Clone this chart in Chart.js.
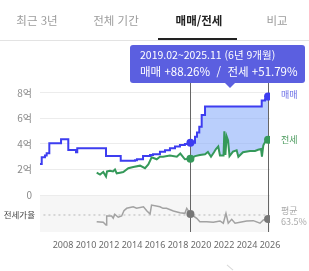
<!DOCTYPE html>
<html lang="ko">
<head>
<meta charset="utf-8">
<script src="https://cdn.jsdelivr.net/npm/chart.js@4"></script>
<style>
  html, body { margin: 0; padding: 0; background: #fff; }
  body {
    width: 309px; height: 271px; position: relative; overflow: hidden;
    font-family: "Noto Sans CJK KR", "Noto Sans", sans-serif;
  }
  #chart { position: absolute; left: 0; top: 0; }
  .tab {
    position: absolute; top: 11px; font-size: 11.5px; line-height: 18px;
    color: #9c9c9c; transform: translateX(-50%); white-space: nowrap;
  }
  .tab.on { color: #222; font-weight: 700; }
  #tabline { position: absolute; left: 0; right: 0; top: 40px; height: 1px; background: #e3e3e3; }
  #tabmark { position: absolute; left: 158px; width: 79px; top: 38px; height: 2px; background: #222; }
  #tip {
    position: absolute; left: 130px; top: 45px; width: 175px; height: 38px;
    background: #5b5fe0; border-radius: 3px; color: #fff;
  }
  #tip .l1 { position: absolute; left: 10px; top: 2px; font-size: 10.5px; line-height: 16px; white-space: nowrap; }
  #tip .l2 { position: absolute; left: 10px; top: 18px; font-size: 11.5px; line-height: 17px; white-space: nowrap; }
  #caret {
    position: absolute; left: 225px; top: 83px; width: 0; height: 0;
    border-left: 5px solid transparent; border-right: 5px solid transparent;
    border-top: 5px solid #5b5fe0;
  }
  .side { position: absolute; left: 281px; font-size: 9px; line-height: 12px; white-space: nowrap; }
  #chev { position: absolute; left: 226px; top: 267px; width: 8px; height: 1px; background: #d8d8d8; transform: rotate(40deg); }
</style>
</head>
<body>
<canvas id="chart" width="309" height="271"></canvas>

<div class="tab" style="left:37px">최근 3년</div>
<div class="tab" style="left:116px">전체 기간</div>
<div class="tab on" style="left:199px">매매/전세</div>
<div class="tab" style="left:277px">비교</div>
<div id="tabline"></div>
<div id="tabmark"></div>

<div id="tip">
  <div class="l1">2019.02~2025.11 (6년 9개월)</div>
  <div class="l2">매매 +88.26% &nbsp;/&nbsp; 전세 +51.79%</div>
</div>
<div id="caret"></div>

<div class="side" style="top:89px;color:#6a6ee6">매매</div>
<div class="side" style="top:134px;color:#4a9a5c">전세</div>
<div class="side" style="top:205px;color:#aaa">평균</div>
<div class="side" style="top:216px;color:#aaa">63.5%</div>
<div id="chev"></div>

<script>
// ── 데이터 ──────────────────────────────────────────────────────────────────

const YEAR_TICKS = [2008, 2010, 2012, 2014, 2016, 2018, 2020, 2022, 2024, 2026];
const PRICE_TICKS = [0, 2, 4, 6, 8];

const RANGE_START = 2019.08;  // 2019.02
const RANGE_END = 2025.83;    // 2025.11
const AVG_RATIO = 63.5;

// 매매 (억)
const SALE_X = [2006.0, 2006.15, 2006.43, 2006.58, 2006.81, 2007.83, 2008.46, 2009.13, 2009.24,
    2011.74, 2013.02, 2014.26, 2014.43, 2014.96, 2015.57, 2015.83, 2016.43, 2016.87, 2017.3,
    2017.74, 2018.17, 2018.6, 2019.08, 2019.48, 2019.65, 2019.85, 2020.06, 2020.35, 2025.28,
    2025.57, 2025.83];
const SALE_Y = [2.43, 2.96, 3.1, 3.27, 4.05, 4.37, 3.53, 3.35, 3.66,
    3.06, 2.69, 2.72, 2.8, 3.06, 3.14, 3.2, 3.4, 3.5, 3.66,
    3.8, 3.92, 4.0, 4.1, 4.57, 4.9, 5.36, 6.27, 6.93, 7.4,
    7.5, 7.72];

// 전세 (억)
const JEONSE_X = [2010.93, 2011.22, 2011.5, 2011.74, 2011.83, 2012.09, 2012.35, 2012.52, 2012.67,
    2012.96, 2013.24, 2013.68, 2014.11, 2014.7, 2015.13, 2015.42, 2015.71, 2016.15, 2016.43,
    2016.7, 2017.3, 2017.9, 2018.2, 2018.6, 2019.08, 2019.48, 2019.91, 2020.35, 2020.6,
    2020.87, 2021.13, 2021.3, 2021.5, 2021.65, 2021.96, 2022.03, 2022.12, 2022.23, 2022.35,
    2022.48, 2022.78, 2023.1, 2023.25, 2023.65, 2024.26, 2024.7, 2024.96, 2025.22, 2025.3,
    2025.42, 2025.57, 2025.83];
const JEONSE_Y = [1.75, 1.6, 1.8, 1.44, 1.85, 1.9, 1.85, 2.0, 1.7,
    1.75, 1.8, 2.1, 2.2, 2.3, 2.1, 2.4, 2.96, 2.8, 3.0,
    3.0, 3.1, 3.0, 3.25, 2.8, 2.85, 3.05, 3.14, 3.2, 3.37,
    3.0, 3.35, 3.6, 3.8, 3.1, 3.1, 5.0, 3.15, 4.6, 4.3,
    3.05, 3.4, 3.5, 3.0, 3.35, 3.45, 3.45, 3.55, 3.6, 3.0,
    3.9, 4.15, 4.33];

// 전세가율 (%)
const RATIO_X = [2010.93, 2011.5, 2011.74, 2011.8, 2012.23, 2012.37, 2012.5, 2012.8, 2013.1,
    2013.3, 2013.54, 2014.1, 2014.4, 2015.0, 2015.28, 2015.57, 2015.7, 2016.43, 2016.7,
    2017.0, 2017.6, 2018.17, 2018.6, 2018.76, 2019.08, 2019.63, 2019.9, 2020.5, 2021.07,
    2021.65, 2021.94, 2022.17, 2022.37, 2022.67, 2022.96, 2023.4, 2023.97, 2024.55, 2025.13,
    2025.42, 2025.7, 2025.83];
const RATIO_Y = [52.3, 51.3, 46.8, 61.8, 61.8, 58, 64.7, 59.7, 61.8,
    70.7, 74.7, 77.3, 74.7, 77.3, 70.7, 65.2, 80.2, 77.3, 74.7,
    74.7, 70.2, 67.3, 66.3, 74.7, 65.2, 58, 52.3, 52.3, 51.3,
    53.5, 49.7, 66.3, 49.7, 56.3, 49.7, 51.3, 53.5, 54, 49.7,
    55.2, 56.3, 56.8];

// ── 헬퍼 ────────────────────────────────────────────────────────────────────

const pts = (xs, ys) => xs.map((x, i) => ({ x, y: ys[i] }));
const inRange = (p) => p.x >= RANGE_START && p.x <= RANGE_END;
const ends = (xs, ys) => [RANGE_START, RANGE_END].map(x => ({ x, y: ys[xs.indexOf(x)] }));

const BLUE = '#3d3df0';
const GREEN = '#35995a';
const GRAY = '#a2a2a2';

// 하단 패널 배경 + 기간 세로선
const decor = {
    id: 'decor',
    beforeDraw(chart) {
        const { ctx, chartArea, scales: { y2 } } = chart;
        ctx.save();
        ctx.fillStyle = '#f6f6f6';
        ctx.fillRect(chartArea.left, y2.top, chartArea.right - chartArea.left, y2.bottom - y2.top);
        ctx.restore();
    },
    beforeDatasetsDraw(chart) {
        const { ctx, chartArea, scales: { x, y2 } } = chart;
        ctx.save();
        ctx.strokeStyle = '#666';
        ctx.lineWidth = 1;
        [RANGE_START, RANGE_END].forEach(v => {
            const px = Math.round(x.getPixelForValue(v)) + 0.5;
            ctx.beginPath();
            ctx.moveTo(px, chartArea.top);
            ctx.lineTo(px, y2.bottom);
            ctx.stroke();
        });
        ctx.restore();
    },
};

const markerSet = (data, color, axis) => ({
    data, yAxisID: axis, showLine: false,
    pointRadius: 4, pointBackgroundColor: color, pointBorderWidth: 0,
});

new Chart(document.getElementById('chart'), {
    type: 'line',
    data: {
        datasets: [
            {   // 매매 구간 (채움 위쪽)
                data: pts(SALE_X, SALE_Y).filter(inRange), yAxisID: 'y', stepped: true,
                borderWidth: 0, pointRadius: 0, fill: '+1',
                backgroundColor: 'rgba(140,175,250,0.6)',
            },
            {   // 전세 구간 (채움 아래쪽)
                data: pts(JEONSE_X, JEONSE_Y).filter(inRange), yAxisID: 'y',
                borderWidth: 0, pointRadius: 0, fill: false,
            },
            markerSet(ends(SALE_X, SALE_Y), BLUE, 'y'),
            markerSet(ends(JEONSE_X, JEONSE_Y), GREEN, 'y'),
            markerSet(ends(RATIO_X, RATIO_Y), '#777', 'y2'),
            {
                data: pts(SALE_X, SALE_Y), yAxisID: 'y', stepped: true,
                borderColor: BLUE, borderWidth: 2, pointRadius: 0, fill: false,
            },
            {
                data: pts(JEONSE_X, JEONSE_Y), yAxisID: 'y',
                borderColor: GREEN, borderWidth: 2, pointRadius: 0, fill: false,
            },
            {
                data: pts(RATIO_X, RATIO_Y), yAxisID: 'y2',
                borderColor: GRAY, borderWidth: 1.5, pointRadius: 0, fill: false,
            },
            {
                data: [{ x: 2006.3, y: AVG_RATIO }, { x: RANGE_END, y: AVG_RATIO }], yAxisID: 'y2',
                borderColor: '#b8b8b8', borderWidth: 1, borderDash: [2, 3], pointRadius: 0, fill: false,
            },
        ],
    },
    options: {
        responsive: false,
        animation: false,
        events: [],
        layout: { padding: { top: 83, right: 39, left: 0, bottom: 0 } },
        plugins: {
            legend: { display: false },
            tooltip: { enabled: false },
            filler: { drawTime: 'beforeDatasetsDraw' },
        },
        scales: {
            x: {
                type: 'linear', min: 2006, max: 2026,
                afterBuildTicks: (s) => { s.ticks = YEAR_TICKS.map(value => ({ value })); },
                afterFit: (s) => { s.height = 39; },
                grid: { display: false, drawTicks: false },
                border: { display: false },
                ticks: {
                    color: '#6a6a6a', padding: 8, maxRotation: 0, autoSkip: false,
                    font: { size: 9, family: '"Noto Sans", sans-serif' },
                    callback: (v) => String(v),
                },
            },
            y: {
                stack: 'panel', stackWeight: 112, weight: 2, position: 'left',
                min: 0, max: 8.78,
                afterBuildTicks: (s) => { s.ticks = PRICE_TICKS.map(value => ({ value })); },
                afterFit: (s) => { s.width = 40; },
                grid: { color: '#ececec', drawTicks: false },
                border: { display: false },
                ticks: {
                    color: '#8a8a8a', padding: 8,
                    font: { size: 10, family: '"Noto Sans CJK KR", sans-serif' },
                    callback: (v) => (v === 0 ? '0' : v + '억'),
                },
            },
            y2: {
                stack: 'panel', stackWeight: 37, weight: 1, position: 'left',
                min: 35, max: 97,
                afterBuildTicks: (s) => { s.ticks = [{ value: AVG_RATIO }]; },
                afterFit: (s) => { s.width = 40; },
                grid: { display: false, drawTicks: false },
                border: { display: false },
                ticks: {
                    color: '#444', padding: 5,
                    font: { size: 8.5, family: '"Noto Sans CJK KR", sans-serif' },
                    callback: () => '전세가율',
                },
            },
        },
    },
    plugins: [decor],
});
</script>
</body>
</html>
